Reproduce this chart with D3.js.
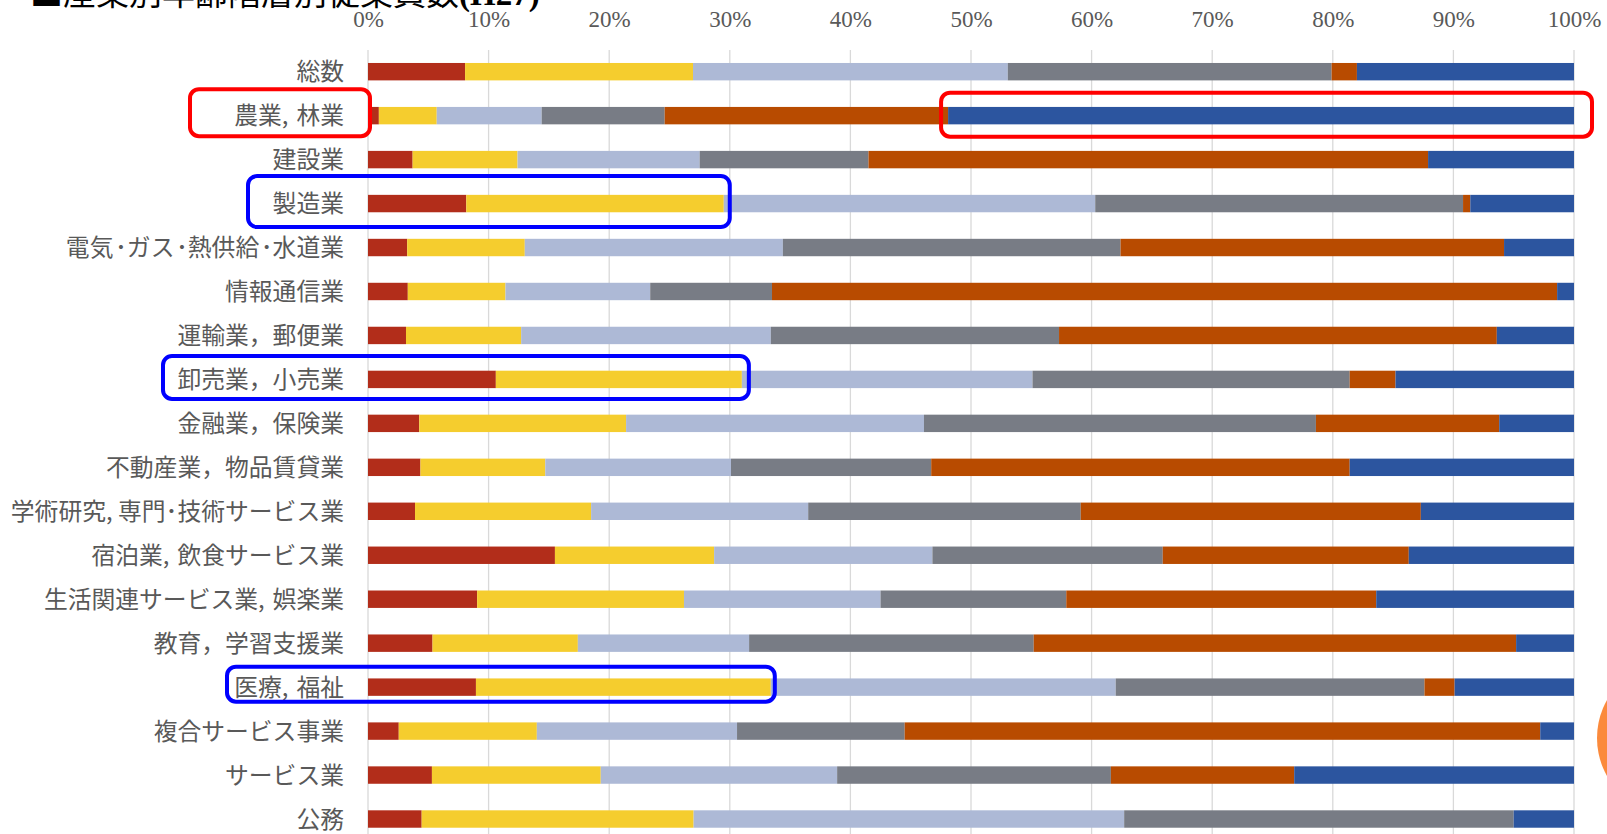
<!DOCTYPE html>
<html>
<head>
<meta charset="utf-8">
<script src="https://cdn.jsdelivr.net/npm/d3@7"></script>
<style>
  html, body { margin: 0; padding: 0; background: #fff; overflow: hidden; }
  svg { display: block; }
</style>
</head>
<body>
<div id="chart"></div>
<script>
// Categorías (industrias)
const categories = [
  "総数", "農業,\u2004林業", "建設業", "製造業", "電気\u200A･ガス\u200A･熱供給\u200A･水道業",
  "情報通信業", "運輸業，郵便業", "卸売業，小売業", "金融業，保険業",
  "不動産業，物品賃貸業", "学術研究, 専門･技術サービス業", "宿泊業,\u2004飲食サービス業",
  "生活関連サービス業,\u2004娯楽業", "教育，学習支援業", "医療,\u2004福祉", "複合サービス事業",
  "サービス業", "公務"
];

// Series (porcentaje por grupo)
const seriesKeys = ["g1", "g2", "g3", "g4", "g5", "g6"];
const g1 = [8.05, 0.9, 3.7, 8.15, 3.25, 3.3, 3.15, 10.6, 4.25, 4.35, 3.9, 15.5, 9.05, 5.35, 8.95, 2.55, 5.3, 4.45];
const g2 = [18.9, 4.8, 8.7, 21.35, 9.75, 8.1, 9.55, 20.4, 17.15, 10.35, 14.6, 13.2, 17.15, 12.05, 24.45, 11.45, 14.0, 22.55];
const g3 = [26.1, 8.7, 15.1, 30.8, 21.4, 12.0, 20.7, 24.1, 24.7, 15.4, 18.0, 18.1, 16.3, 14.2, 28.6, 16.6, 19.6, 35.7];
const g4 = [26.85, 10.2, 14.0, 30.5, 28.0, 10.1, 23.9, 26.3, 32.5, 16.6, 22.6, 19.1, 15.4, 23.6, 25.6, 13.9, 22.7, 32.3];
const g5 = [2.1, 23.5, 46.4, 0.6, 31.8, 65.1, 36.3, 3.8, 15.2, 34.7, 28.2, 20.4, 25.7, 40.0, 2.5, 52.7, 15.2, 0];
const g6 = [18.0, 51.9, 12.1, 8.6, 5.8, 1.4, 6.4, 14.8, 6.2, 18.6, 12.7, 13.7, 16.4, 4.8, 9.9, 2.8, 23.2, 5.0];

// Etiquetas del eje
const tickValues = [0, 10, 20, 30, 40, 50, 60, 70, 80, 90, 100];

const titleText = "■産業別年齢階層別従業員数";
const titleSuffix = "(H27)";

const width = 1607;
const height = 834;

const seriesData = { g1, g2, g3, g4, g5, g6 };
const table = categories.map((c, i) => {
  const row = { category: c };
  seriesKeys.forEach(k => row[k] = seriesData[k][i]);
  return row;
});

const color = d3.scaleOrdinal()
  .domain(seriesKeys)
  .range(["#b22d1a", "#f5cd2e", "#adb9d6", "#787c85", "#b84b00", "#2c559f"]);

const x = d3.scaleLinear()
  .domain([0, 100])
  .range([368, 1574]);

const y = d3.scaleBand()
  .domain(categories)
  .range([49.7, 841])
  .paddingInner(0.604)
  .paddingOuter(0.302);

const svg = d3.select("#chart")
  .append("svg")
  .attr("width", width)
  .attr("height", height);

// Titulo (cortado arriba)
const title = svg.append("text")
  .attr("x", 30)
  .attr("y", 4.5)
  .attr("font-family", "'Noto Sans CJK JP', sans-serif")
  .attr("font-size", "33px")
  .attr("fill", "#000")
  .text(titleText);
title.append("tspan")
  .attr("font-family", "'Liberation Serif', serif")
  .attr("font-weight", "bold")
  .text(titleSuffix);

// Lineas de la cuadricula
svg.append("g")
  .selectAll("line")
  .data(tickValues)
  .join("line")
  .attr("x1", d => x(d))
  .attr("x2", d => x(d))
  .attr("y1", 50)
  .attr("y2", height)
  .attr("stroke", "#d9d9d9")
  .attr("stroke-width", 1.3);

// Eje superior
const axis = svg.append("g")
  .attr("transform", "translate(0,27)")
  .call(d3.axisTop(x).tickValues(tickValues).tickFormat(d => d + "%").tickSize(0).tickPadding(0));
axis.select(".domain").remove();
axis.selectAll("text")
  .attr("font-family", "'Liberation Serif', serif")
  .attr("font-size", "23px")
  .attr("fill", "#595959")
  .attr("dy", 0);

// Barras apiladas
const stacked = d3.stack().keys(seriesKeys).offset(d3.stackOffsetExpand)(table);

svg.append("g")
  .selectAll("g")
  .data(stacked)
  .join("g")
  .attr("fill", d => color(d.key))
  .selectAll("rect")
  .data(d => d)
  .join("rect")
  .attr("x", d => x(d[0] * 100))
  .attr("width", d => x(d[1] * 100) - x(d[0] * 100))
  .attr("y", d => y(d.data.category))
  .attr("height", y.bandwidth());

// Etiquetas de categoria
svg.append("g")
  .selectAll("text")
  .data(categories)
  .join("text")
  .attr("x", 344)
  .attr("y", d => y(d) + y.bandwidth() / 2)
  .attr("dy", "0.36em")
  .attr("text-anchor", "end")
  .attr("font-family", "'Noto Sans CJK JP', sans-serif")
  .attr("font-size", "23.8px")
  .attr("fill", "#595959")
  .text(d => d);

// Recuadros de anotacion
const cum = (i, upTo) => seriesKeys.slice(0, upTo).reduce((s, k) => s + seriesData[k][i], 0);
const center = i => y(categories[i]) + y.bandwidth() / 2;

const boxes = [
  { row: 1, x0: 190, x1: 370, dy: -3, h: 47, stroke: "#ff0000" },
  { row: 1, x0: x(cum(1, 5)) - 7, x1: x(100) + 18, dy: -1, h: 44, stroke: "#ff0000" },
  { row: 3, x0: 248, x1: x(cum(3, 2)) + 6, dy: -2, h: 51, stroke: "#0000ff" },
  { row: 7, x0: 163, x1: x(cum(7, 2)) + 7, dy: -2, h: 43, stroke: "#0000ff" },
  { row: 14, x0: 227, x1: x(cum(14, 2)) + 4, dy: -3, h: 35, stroke: "#0000ff" }
];

svg.append("g")
  .selectAll("rect")
  .data(boxes)
  .join("rect")
  .attr("x", d => d.x0)
  .attr("y", d => center(d.row) + d.dy - d.h / 2)
  .attr("width", d => d.x1 - d.x0)
  .attr("height", d => d.h)
  .attr("rx", 9)
  .attr("fill", "none")
  .attr("stroke", d => d.stroke)
  .attr("stroke-width", 4);

// Circulo naranja en el borde derecho
svg.append("circle")
  .attr("cx", 1674)
  .attr("cy", 738)
  .attr("r", 77)
  .attr("fill", "#fb8a3c");
</script>
</body>
</html>
